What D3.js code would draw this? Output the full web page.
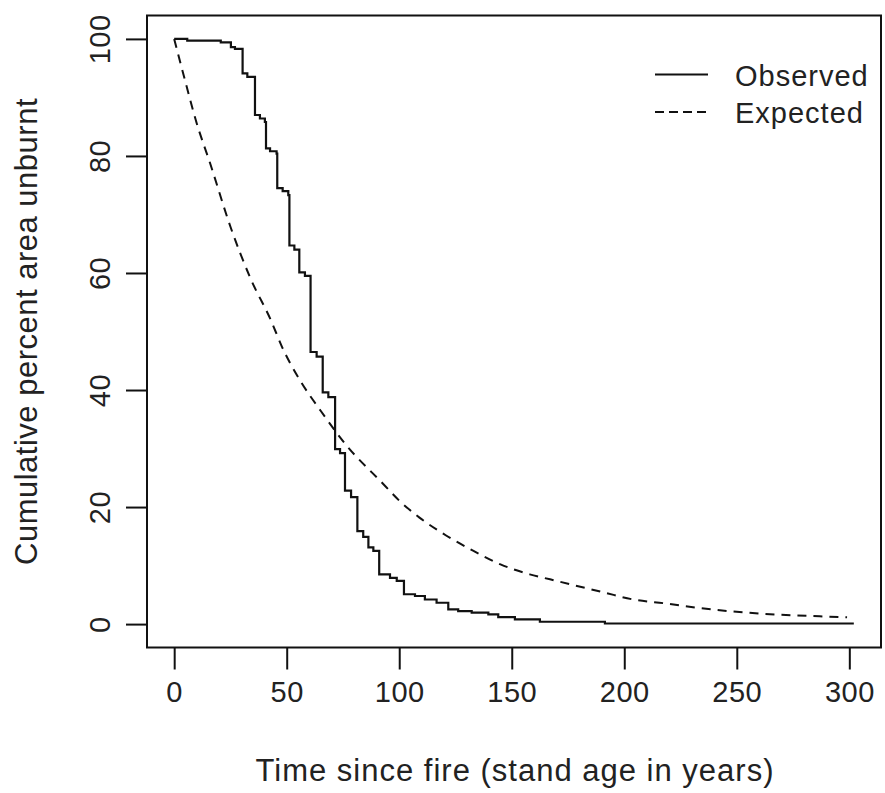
<!doctype html>
<html lang="en">
<head>
<meta charset="UTF-8">
<title>Cumulative percent area unburnt</title>
<style>
  body { margin: 0; background: #fff; }
  svg text { font-family: "Liberation Sans", Arial, sans-serif; fill: #222; }
</style>
</head>
<body>
<div class="container"></div>

<script src="https://d3js.org/d3.v7.min.js"></script>
<script>
  // observed: step curve (years, percent unburnt)
  const obsYears = [0, 5.8, 20.7, 25.2, 27, 30.4, 32.5, 35.9, 38.1, 40.3, 40.8, 42.6, 45.5, 45.8, 48.2, 50.7,
    51.2, 53.4, 55.6, 58.1, 60.6, 63.3, 66, 68.5, 71.5, 73.7, 75.9, 78.6, 81.4, 84, 86.3, 88.5, 91.1,
    95.9, 98.9, 102.1, 107, 111.4, 116.6, 121.8, 126.2, 132.2, 139.6, 144, 151.4, 162.5, 191.4, 302];
  const obsValues = [100, 99.7, 99.4, 98.6, 98.3, 94.1, 93.5, 87.0, 86.4, 85.8, 81.3, 80.8, 80.4, 74.5, 74.0, 73.3,
    64.7, 64.0, 60.1, 59.5, 46.5, 45.7, 39.6, 38.8, 29.9, 29.2, 22.8, 21.7, 15.9, 14.9, 13.1, 12.5, 8.5,
    7.9, 7.4, 5.1, 4.8, 4.2, 3.65, 2.5, 2.2, 1.95, 1.65, 1.2, 0.8, 0.4, 0.1, 0.1];

  // expected: smooth dashed curve
  const expYears = [0, 4, 10, 16, 25, 34, 43, 48, 56, 65, 76, 93, 100, 109, 121, 133, 145, 158, 167,
    191, 204, 219, 232, 247, 260, 275, 296, 299];
  const expValues = [100, 94.1, 85.6, 78.7, 67.9, 59.0, 51.9, 47.3, 41.6, 36.5, 30.8, 23.9, 21.1, 18.2, 15.1,
    12.5, 10.2, 8.5, 7.65, 5.4, 4.2, 3.5, 2.8, 2.2, 1.8, 1.5, 1.2, 1.15];

  const xTicks = [0, 50, 100, 150, 200, 250, 300];
  const yTicks = [0, 20, 40, 60, 80, 100];
  const legendLabels = ['Observed', 'Expected'];

  const SVG_WIDTH = 885;
  const SVG_HEIGHT = 793;
  const LEFT = 147, RIGHT = 881, TOP = 15.5, BOTTOM = 647.5;
  const FONT = 29;

  const svg = d3.select('.container')
    .append('svg')
    .attr('width', SVG_WIDTH)
    .attr('height', SVG_HEIGHT);

  // R style: 4% padding on each side of the data range
  const xMax = 302;
  const x = d3.scaleLinear()
    .domain([-0.04 * xMax, 1.04 * xMax])
    .range([LEFT, RIGHT]);
  const y = d3.scaleLinear()
    .domain([-4, 104])
    .range([BOTTOM, TOP]);

  const obs = obsYears.map((t, i) => ({ t, v: obsValues[i] }));
  const exp = expYears.map((t, i) => ({ t, v: expValues[i] }));

  const stepLine = d3.line()
    .x(d => x(d.t))
    .y(d => y(d.v))
    .curve(d3.curveStepAfter);
  const smoothLine = d3.line()
    .x(d => x(d.t))
    .y(d => y(d.v))
    .curve(d3.curveMonotoneX);

  svg.append('path')
    .datum(exp)
    .attr('d', smoothLine)
    .attr('fill', 'none')
    .attr('stroke', '#111')
    .attr('stroke-width', 2)
    .attr('stroke-dasharray', '9,7');

  svg.append('path')
    .datum(obs)
    .attr('d', stepLine)
    .attr('fill', 'none')
    .attr('stroke', '#111')
    .attr('stroke-width', 2.2);

  // frame
  svg.append('rect')
    .attr('x', LEFT)
    .attr('y', TOP)
    .attr('width', RIGHT - LEFT)
    .attr('height', BOTTOM - TOP)
    .attr('fill', 'none')
    .attr('stroke', '#111')
    .attr('stroke-width', 2);

  // axes
  const xAxis = d3.axisBottom(x).tickValues(xTicks).tickSize(22);
  const yAxis = d3.axisLeft(y).tickValues(yTicks).tickSize(21);

  const xAxisGroup = svg.append('g')
    .attr('transform', `translate(0, ${BOTTOM})`)
    .call(xAxis);
  const yAxisGroup = svg.append('g')
    .attr('transform', `translate(${LEFT}, 0)`)
    .call(yAxis);

  [xAxisGroup, yAxisGroup].forEach(g => {
    g.select('.domain').remove();
    g.selectAll('line').attr('stroke', '#111').attr('stroke-width', 2);
    g.selectAll('text').style('font-size', FONT + 'px').attr('fill', '#222');
  });

  xAxisGroup.selectAll('text')
    .attr('y', 54)
    .attr('dy', null)
    .style('letter-spacing', '0.5px');

  // R keeps y tick labels parallel to the axis
  yAxisGroup.selectAll('text')
    .attr('x', null)
    .attr('dy', null)
    .attr('text-anchor', 'middle')
    .style('letter-spacing', '0.5px')
    .attr('transform', 'translate(-37, 0) rotate(-90)');

  // axis titles
  svg.append('text')
    .attr('x', 515)
    .attr('y', 781)
    .attr('text-anchor', 'middle')
    .style('font-size', '31px')
    .style('letter-spacing', '1px')
    .text('Time since fire (stand age in years)');

  svg.append('text')
    .attr('transform', `translate(37, ${(y(0) + y(100)) / 2}) rotate(-90)`)
    .attr('text-anchor', 'middle')
    .style('font-size', '31px')
    .style('letter-spacing', '0.5px')
    .text('Cumulative percent area unburnt');

  // legend
  const legend = svg.append('g');
  legendLabels.forEach((label, i) => {
    const ly = 74.5 + i * 37.5;
    legend.append('line')
      .attr('x1', 655).attr('x2', 708)
      .attr('y1', ly).attr('y2', ly)
      .attr('stroke', '#111')
      .attr('stroke-width', 2)
      .attr('stroke-dasharray', i === 1 ? '9,5' : null);
    legend.append('text')
      .attr('x', 735)
      .attr('y', ly + 11)
      .style('font-size', FONT + 'px')
      .style('letter-spacing', '1px')
      .text(label);
  });
</script>
</body>
</html>
